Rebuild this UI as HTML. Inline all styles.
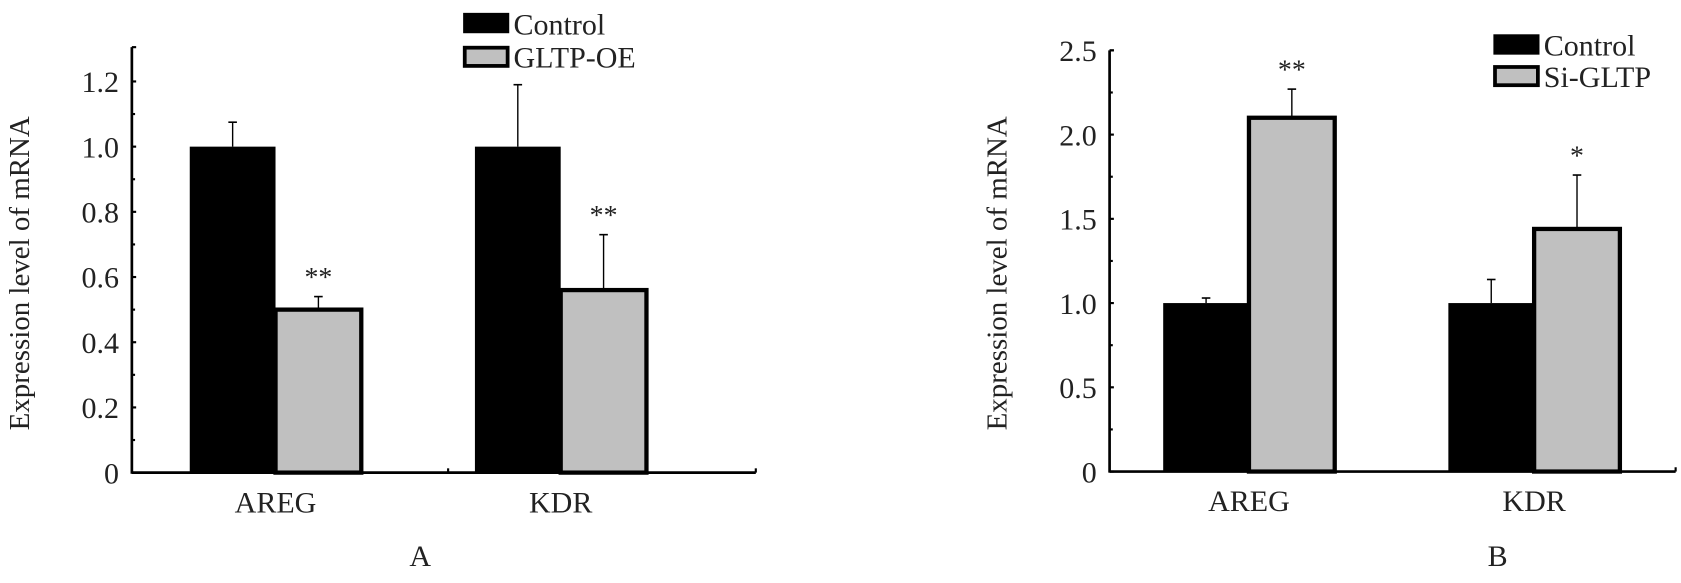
<!DOCTYPE html>
<html><head><meta charset="utf-8"><style>
html,body{margin:0;padding:0;background:#fff;}
svg{display:block;}
text{font-family:"Liberation Serif",serif;fill:#222;}
</style></head><body>
<svg id="fig" width="1681" height="583" viewBox="0 0 1568 544" preserveAspectRatio="none" xmlns="http://www.w3.org/2000/svg"></svg>
<script>
const categories = ["AREG", "KDR"];
const aControl = [1.0, 1.0];
const aControlErr = [0.075, 0.19];
const aOE = [0.50, 0.56];
const aOEErr = [0.04, 0.17];
const aSig = ["**", "**"];
const aTicks = ["0", "0.2", "0.4", "0.6", "0.8", "1.0", "1.2"];
const bControl = [1.0, 1.0];
const bControlErr = [0.03, 0.14];
const bSi = [2.1, 1.44];
const bSiErr = [0.17, 0.32];
const bSig = ["**", "*"];
const bTicks = ["0", "0.5", "1.0", "1.5", "2.0", "2.5"];

const NS = "http://www.w3.org/2000/svg";
const svg = document.getElementById('fig');
function el(tag, attrs, parent) {
  const e = document.createElementNS(NS, tag);
  for (const k in attrs) e.setAttribute(k, attrs[k]);
  (parent || svg).appendChild(e);
  return e;
}
function txt(s, attrs, parent) { const t = el('text', attrs, parent); t.textContent = s; return t; }

function panel(cfg) {
  const g = el('g', {});
  
  
  const y = v => cfg.y0 - (v / cfg.max) * (cfg.y0 - cfg.yTop);
  const ya = el('line', {x1: cfg.x0, y1: cfg.y0 + 1, x2: cfg.x0, y2: cfg.axTop, stroke: '#000', 'stroke-width': 2.5}, g);
  
  
  const xa = el('line', {x1: cfg.x0, y1: cfg.y0, x2: cfg.x1, y2: cfg.y0, stroke: '#000', 'stroke-width': 2.5}, g);
  
  
  el('line', {x1: cfg.mid, y1: cfg.y0 - 4, x2: cfg.mid, y2: cfg.y0, stroke: '#000', 'stroke-width': 2}, g);
  el('line', {x1: cfg.x1, y1: cfg.y0 - 4, x2: cfg.x1, y2: cfg.y0, stroke: '#000', 'stroke-width': 2}, g);
  el('line', {x1: cfg.x0, y1: cfg.axTop, x2: cfg.x0 + 4, y2: cfg.axTop, stroke: '#000', 'stroke-width': 2}, g);
  const step = cfg.max / (cfg.ticks.length - 1);
  cfg.ticks.forEach((t, i) => {
    const v = i * step;
    el('line', {x1: cfg.x0, y1: y(v), x2: cfg.x0 + 4, y2: y(v), stroke: '#000', 'stroke-width': 2}, g);
    if (i > 0) el('line', {x1: cfg.x0, y1: y(v - step / 2), x2: cfg.x0 + 3, y2: y(v - step / 2), stroke: '#000', 'stroke-width': 2}, g);
    const l = txt(t, {x: cfg.x0 - 12, y: y(v) + 10, 'text-anchor': 'end', 'font-size': 28}, g);
    
    
  });
  const yt = txt('Expression level of mRNA', {x: 0, y: 0, 'text-anchor': 'middle', 'font-size': 27, transform: `translate(${cfg.titleX},${cfg.titleY}) rotate(-90)`}, g);
  
  
  categories.forEach((c, i) => {
    const gx = cfg.groupX[i];
    const bw = cfg.bw;
    const cv = cfg.ctrl[i], tv = cfg.trt[i];
    el('line', {x1: gx - bw / 2, y1: y(cv), x2: gx - bw / 2, y2: y(cv + cfg.ctrlErr[i]), stroke: '#000', 'stroke-width': 1.3}, g);
    el('line', {x1: gx - bw / 2 - 4, y1: y(cv + cfg.ctrlErr[i]), x2: gx - bw / 2 + 4, y2: y(cv + cfg.ctrlErr[i]), stroke: '#000', 'stroke-width': 1.5}, g);
    el('line', {x1: gx + bw / 2, y1: y(tv), x2: gx + bw / 2, y2: y(tv + cfg.trtErr[i]), stroke: '#000', 'stroke-width': 1.3}, g);
    el('line', {x1: gx + bw / 2 - 4, y1: y(tv + cfg.trtErr[i]), x2: gx + bw / 2 + 4, y2: y(tv + cfg.trtErr[i]), stroke: '#000', 'stroke-width': 1.5}, g);
    const b1 = el('rect', {x: gx - bw, y: y(cv), width: bw, height: cfg.y0 - y(cv), fill: '#000'}, g);
    
    
    const b2 = el('rect', {x: gx, y: y(tv), width: bw, height: cfg.y0 - y(tv), fill: '#c0c0c0', stroke: '#000', 'stroke-width': 4}, g);
    
    
    const s = txt(cfg.sig[i], {x: gx + bw / 2, y: y(tv + cfg.trtErr[i]) - 10, 'text-anchor': 'middle', 'font-size': 26}, g);
    
    
    const cl = txt(c, {x: gx, y: cfg.y0 + 37, 'text-anchor': 'middle', 'font-size': 28}, g);
    
    
  });
  const lg = el('g', {}, g);
  
  
  el('rect', {x: cfg.legX, y: cfg.legY, width: 43, height: 19, fill: '#000'}, lg);
  txt('Control', {x: cfg.legX + 47, y: cfg.legY + 20, 'font-size': 28}, lg);
  el('rect', {x: cfg.legX + 1.5, y: cfg.legY + cfg.legGap + 1.5, width: 40, height: 17, fill: '#c0c0c0', stroke: '#000', 'stroke-width': 3.5}, lg);
  txt(cfg.trtName, {x: cfg.legX + 47, y: cfg.legY + cfg.legGap + 20, 'font-size': 28}, lg);
  const pl = txt(cfg.label, {x: cfg.labelX, y: 528, 'text-anchor': 'middle', 'font-size': 28}, g);
  
  
}

panel({name: 'chart-a', x0: 123, x1: 705, mid: 418, y0: 441, yTop: 76, axTop: 44, max: 1.2,
  ticks: aTicks, groupX: [257, 523], bw: 80, ctrl: aControl, ctrlErr: aControlErr, trt: aOE, trtErr: aOEErr,
  sig: aSig, titleX: 27, titleY: 255, legX: 432, legY: 12, legGap: 31, trtName: 'GLTP-OE', label: 'A', labelX: 392});
panel({name: 'chart-b', x0: 1035, x1: 1563, mid: 1393, y0: 440, yTop: 47, axTop: 47, max: 2.5,
  ticks: bTicks, groupX: [1165, 1431], bw: 80, ctrl: bControl, ctrlErr: bControlErr, trt: bSi, trtErr: bSiErr,
  sig: bSig, titleX: 939, titleY: 255, legX: 1393, legY: 32, legGap: 29, trtName: 'Si-GLTP', label: 'B', labelX: 1397});
</script>
</body></html>
